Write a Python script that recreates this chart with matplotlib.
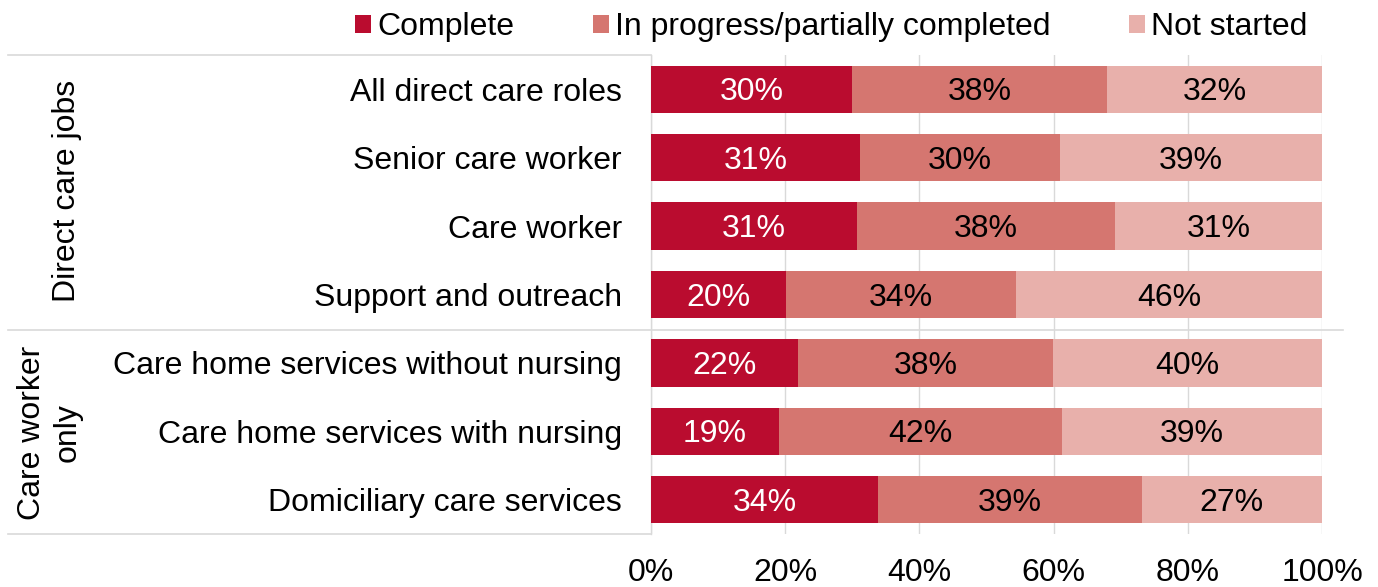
import matplotlib
matplotlib.use("Agg")
import matplotlib.pyplot as plt
from matplotlib.lines import Line2D

plt.rcParams['font.family'] = ['Liberation Sans', 'DejaVu Sans']

categories = ["All direct care roles", "Senior care worker", "Care worker",
              "Support and outreach", "Care home services without nursing",
              "Care home services with nursing", "Domiciliary care services"]
complete = [30.0, 31.1, 30.7, 20.1, 21.9, 19.1, 33.8]
in_progress = [38.0, 29.9, 38.4, 34.3, 38.0, 42.2, 39.3]
not_started = [32.0, 39.0, 30.9, 45.6, 40.1, 38.7, 26.9]
series_names = ["Complete", "In progress/partially completed", "Not started"]
group_labels = ["Direct care jobs", "Care worker\nonly"]
xtick_values = [0, 20, 40, 60, 80, 100]
xtick_labels = ["0%", "20%", "40%", "60%", "80%", "100%"]

colors = ["#BA0C2F", "#D57670", "#E8B0AB"]
text_colors = ["white", "black", "black"]
FS = 23

W, H = 1378, 587
fig = plt.figure(figsize=(W / 100, H / 100), dpi=100)
ax = fig.add_axes([651 / W, 1 - 534 / H, (1322 - 651) / W, (534 - 55) / H])

y = list(range(len(categories)))
left = [0.0] * len(categories)
for vals, col, tcol, name in zip([complete, in_progress, not_started], colors, text_colors, series_names):
    bars = ax.barh(y, vals, left=left, height=0.69, color=col, label=name, zorder=3)
    for b, v in zip(bars, vals):
        ax.annotate(f"{round(v):d}%", (b.get_x() + b.get_width() / 2, b.get_y() + b.get_height() / 2),
                    xytext=(0, -2.2), textcoords="offset points",
                    ha="center", va="center", color=tcol, fontsize=FS, zorder=4)
    left = [l + v for l, v in zip(left, vals)]

ax.set_xlim(0, 100)
ax.set_ylim(6.5, -0.5)
ax.set_yticks(y)
ax.set_yticklabels(categories, fontsize=FS)
ax.set_xticks(xtick_values)
ax.set_xticklabels(xtick_labels, fontsize=FS)
ax.tick_params(axis="both", length=0)
ax.tick_params(axis="y", pad=21)
ax.tick_params(axis="x", pad=17.5)
ax.grid(axis="x", color="#d9d9d9", linewidth=1, zorder=0)
for s in ["top", "right", "bottom"]:
    ax.spines[s].set_visible(False)
ax.spines["left"].set_color("#d9d9d9")
ax.spines["left"].set_linewidth(1)

# group separator lines (figure coordinates)
def hline(x0, x1, ypx):
    fig.add_artist(Line2D([x0 / W, x1 / W], [1 - ypx / H, 1 - ypx / H],
                          color="#d9d9d9", linewidth=1.2, transform=fig.transFigure))

hline(8, 651, 55)
hline(8, 1343, 329.5)
hline(8, 651, 534)

fig.text(67 / W, 1 - 191 / H, group_labels[0], rotation=90, ha="center", va="center", fontsize=FS)
fig.text(50 / W, 1 - 433 / H, group_labels[1], rotation=90, ha="center", va="center",
         fontsize=FS, multialignment="center", linespacing=1.25)

leg = fig.legend(loc="center left", bbox_to_anchor=(355 / W, 1 - 27 / H), ncol=3, frameon=False,
                 fontsize=FS, handlelength=0.5, handleheight=0.5, handletextpad=0.2,
                 columnspacing=2.45, borderaxespad=0, borderpad=0)

fig.savefig("out.png", dpi=100)
